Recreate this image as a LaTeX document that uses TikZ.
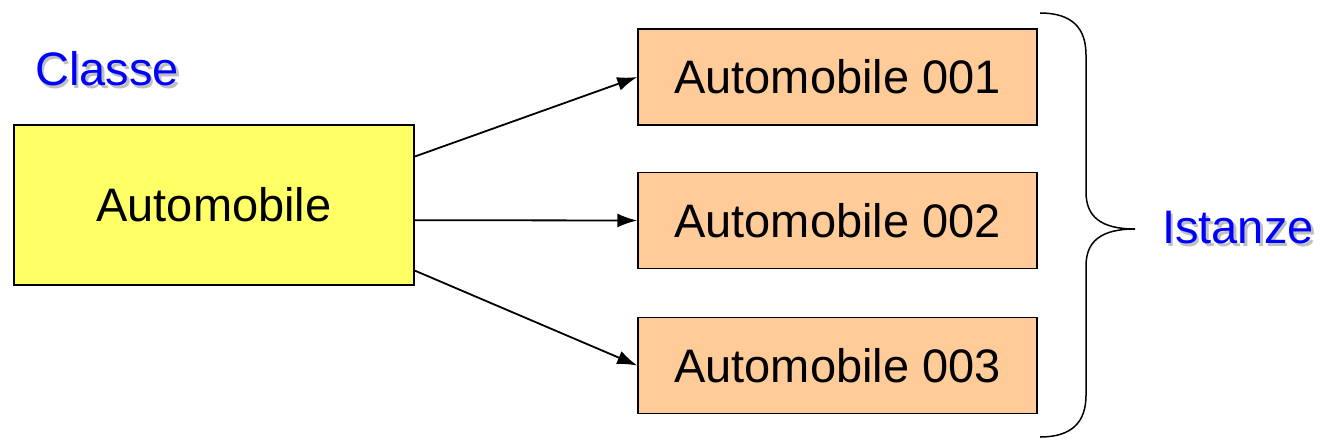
\documentclass[tikz,border=0pt]{standalone}
\usepackage{fontspec}
\setmainfont{Liberation Sans}
\usetikzlibrary{arrows.meta,calc}

\definecolor{classyellow}{RGB}{255,255,102}
\definecolor{instorange}{RGB}{255,204,153}
\definecolor{titleblue}{RGB}{0,0,255}

% blue heading with a soft grey drop shadow
\newcommand{\shadowed}[1]{\rlap{\hspace{2.5pt}\raisebox{-2.5pt}{\textcolor{black!25}{#1}}}\textcolor{titleblue}{#1}}

\begin{document}
\begin{tikzpicture}[x=1pt, y=-1pt, >={Latex[length=20pt,width=14pt]},
  every node/.style={font=\fontsize{47}{56}\selectfont},
  classbox/.style={draw, line width=1.5pt, fill=classyellow, minimum width=400pt, minimum height=160pt, inner sep=0pt},
  instbox/.style={draw, line width=1.5pt, fill=instorange, minimum width=399pt, minimum height=96pt, inner sep=0pt},
  link/.style={->, line width=1.8pt}]
\useasboundingbox (0,0) rectangle (1321,441);

\node[classbox] (cls) at (214,205) {Automobile};
\node[instbox] (a1) at (837.5,77) {Automobile 001};
\node[instbox] (a2) at (837.5,220.5) {Automobile 002};
\node[instbox] (a3) at (837.5,365.5) {Automobile 003};

\draw[link] ($(cls.north east)!0.2!(cls.south east)$) -- (a1.west);
\draw[link] ($(cls.north east)!0.594!(cls.south east)$) -- (a2.west);
\draw[link] ($(cls.north east)!0.906!(cls.south east)$) -- (a3.west);

% curly brace grouping the instances
\draw[line width=1.5pt] (1040,13) .. controls (1072,13) and (1086,28) .. (1086,55)
  -- (1086,192) .. controls (1086,216) and (1100,229) .. (1135,229)
  .. controls (1100,229) and (1086,242) .. (1086,266)
  -- (1086,395) .. controls (1086,422) and (1072,437) .. (1040,437);

\node[anchor=west, inner sep=0pt] (cl) at (35,70) {\shadowed{Classe}};
\node[anchor=west, inner sep=0pt] (ist) at (1162,229) {\shadowed{Istanze}};
\end{tikzpicture}
\end{document}
